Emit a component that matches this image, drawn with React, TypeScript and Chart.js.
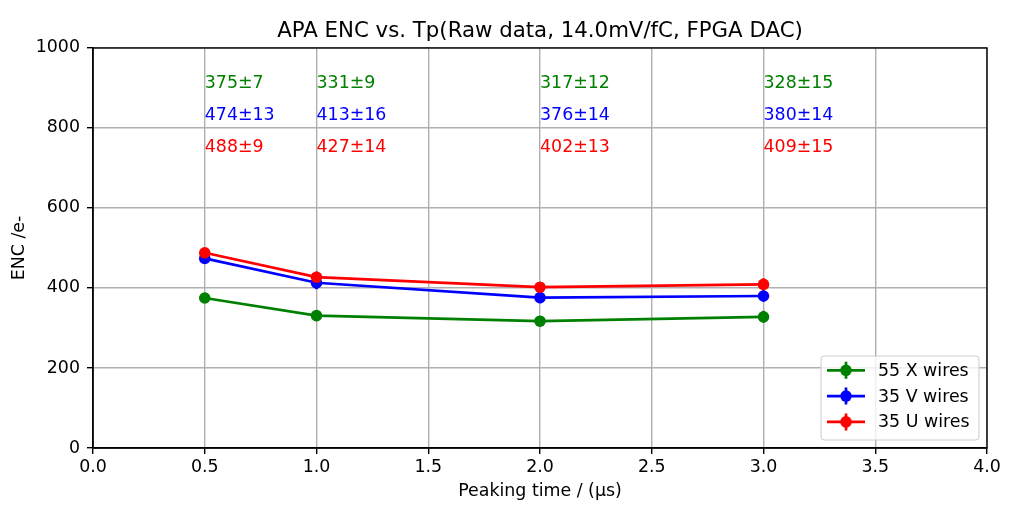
import { useEffect, useRef } from 'react'
import { Chart, registerables, type ChartConfiguration, type Plugin } from 'chart.js'

Chart.register(...registerables)

const peakingTimes = [0.5, 1.0, 2.0, 3.0]

const xEnc = [375, 331, 317, 328]
const xErr = [7, 9, 12, 15]
const vEnc = [474, 413, 376, 380]
const vErr = [13, 16, 14, 14]
const uEnc = [488, 427, 402, 409]
const uErr = [9, 14, 13, 15]

const seriesNames = ['55 X wires', '35 V wires', '35 U wires']
const seriesColors = ['#008000', '#0000ff', '#ff0000']
// y position (data units) of the text rows at the top
const labelRows = [900, 820, 740]

const yTicks = [0, 200, 400, 600, 800, 1000]
const xTicks = [0, 0.5, 1.0, 1.5, 2.0, 2.5, 3.0, 3.5, 4.0]

const FONT = 'DejaVu Sans'
const FS = 17.4
const LW = 2.7
const MR = 5.8

const series = [
  { name: seriesNames[0], color: seriesColors[0], enc: xEnc, err: xErr, row: labelRows[0] },
  { name: seriesNames[1], color: seriesColors[1], enc: vEnc, err: vErr, row: labelRows[1] },
  { name: seriesNames[2], color: seriesColors[2], enc: uEnc, err: uErr, row: labelRows[2] },
]

const errorBars: Plugin = {
  id: 'errorBars',
  beforeDatasetsDraw(chart) {
    const { ctx, scales } = chart
    const xs = scales.x, ys = scales.y
    ctx.save()
    ctx.lineWidth = LW
    series.forEach(s => {
      ctx.strokeStyle = s.color
      s.enc.forEach((v, i) => {
        const px = xs.getPixelForValue(peakingTimes[i])
        ctx.beginPath()
        ctx.moveTo(px, ys.getPixelForValue(v - s.err[i]))
        ctx.lineTo(px, ys.getPixelForValue(v + s.err[i]))
        ctx.stroke()
      })
    })
    ctx.restore()
  },
}

const decorations: Plugin = {
  id: 'decorations',
  afterDatasetsDraw(chart) {
    const { ctx, scales, chartArea: a } = chart
    const xs = scales.x, ys = scales.y
    ctx.save()

    // value labels
    ctx.font = `${FS}px "${FONT}"`
    ctx.textAlign = 'left'
    ctx.textBaseline = 'alphabetic'
    series.forEach(s => {
      ctx.fillStyle = s.color
      s.enc.forEach((v, i) => {
        ctx.fillText(`${v}±${s.err[i]}`, xs.getPixelForValue(peakingTimes[i]), ys.getPixelForValue(s.row))
      })
    })

    // frame
    ctx.strokeStyle = '#000'
    ctx.lineWidth = 1.4
    ctx.strokeRect(a.left, a.top, a.right - a.left, a.bottom - a.top)

    // legend
    const w = 158, h = 84
    const lx = a.right - 8 - w, ly = a.bottom - 8 - h
    ctx.fillStyle = 'rgba(255,255,255,0.8)'
    ctx.strokeStyle = '#cccccc'
    ctx.lineWidth = 1
    ctx.beginPath()
    ctx.roundRect(lx, ly, w, h, 3)
    ctx.fill()
    ctx.stroke()
    series.forEach((s, i) => {
      const cy = ly + 14.3 + i * 25.8
      ctx.strokeStyle = s.color
      ctx.fillStyle = s.color
      ctx.lineWidth = LW
      ctx.beginPath()
      ctx.moveTo(lx + 6, cy)
      ctx.lineTo(lx + 44, cy)
      ctx.moveTo(lx + 25, cy - 8.5)
      ctx.lineTo(lx + 25, cy + 8.5)
      ctx.stroke()
      ctx.beginPath()
      ctx.arc(lx + 25, cy, MR, 0, Math.PI * 2)
      ctx.fill()
      ctx.fillStyle = '#000'
      ctx.font = `${FS}px "${FONT}"`
      ctx.textBaseline = 'middle'
      ctx.fillText(s.name, lx + 57, cy + 1)
    })
    ctx.restore()
  },
}

export default function App() {
  const ref = useRef<HTMLCanvasElement>(null)

  useEffect(() => {
    if (!ref.current) return
    document.body.style.margin = '0'
    Chart.defaults.font.family = FONT
    Chart.defaults.color = '#000'

    const config: ChartConfiguration<'line'> = {
      type: 'line',
      data: {
        datasets: series.map((s, k) => ({
          label: s.name,
          data: s.enc.map((v, i) => ({ x: peakingTimes[i], y: v })),
          borderColor: s.color,
          backgroundColor: s.color,
          borderWidth: LW,
          pointRadius: MR,
          pointBorderWidth: 0,
          pointHoverRadius: MR,
          tension: 0,
          order: 3 - k,
        })),
      },
      options: {
        responsive: false,
        animation: false,
        devicePixelRatio: 1,
        layout: { padding: { left: 0, right: 31, top: 0, bottom: 0 } },
        plugins: {
          legend: { display: false },
          tooltip: { enabled: false },
          title: {
            display: true,
            text: 'APA ENC vs. Tp(Raw data, 14.0mV/fC, FPGA DAC)',
            fullSize: false,
            color: '#000',
            font: { family: FONT, size: 21.3, weight: 'normal' },
            padding: { top: 19, bottom: 3.4 },
          },
        },
        scales: {
          x: {
            type: 'linear',
            min: 0,
            max: 4,
            afterBuildTicks: sc => { sc.ticks = xTicks.map(value => ({ value })) },
            afterFit: sc => { sc.height = 62 },
            ticks: {
              font: { size: FS },
              color: '#000',
              padding: 3,
              maxRotation: 0,
              callback: v => Number(v).toFixed(1),
            },
            grid: { color: '#b0b0b0', lineWidth: 1.4, tickLength: 6, tickColor: '#000', tickWidth: 1.4 },
            border: { display: true, color: '#000', width: 1.4 },
            title: {
              display: true,
              text: 'Peaking time / (μs)',
              font: { size: FS },
              color: '#000',
              padding: { top: 0, bottom: 8 },
            },
          },
          y: {
            type: 'linear',
            min: 0,
            max: 1000,
            afterBuildTicks: sc => { sc.ticks = yTicks.map(value => ({ value })) },
            afterFit: sc => { sc.width = 93 },
            ticks: { font: { size: FS }, color: '#000', padding: 7, callback: v => String(v) },
            grid: { color: '#b0b0b0', lineWidth: 1.4, tickLength: 6, tickColor: '#000', tickWidth: 1.4 },
            border: { display: true, color: '#000', width: 1.4 },
            title: {
              display: true,
              text: 'ENC /e-',
              font: { size: FS },
              color: '#000',
              padding: { top: 9, bottom: 0 },
            },
          },
        },
      },
      plugins: [errorBars, decorations],
    }

    const chart = new Chart(ref.current, config)
    return () => chart.destroy()
  }, [])

  return <canvas ref={ref} width={1018} height={510} style={{ display: 'block', width: 1018, height: 510 }} />
}
